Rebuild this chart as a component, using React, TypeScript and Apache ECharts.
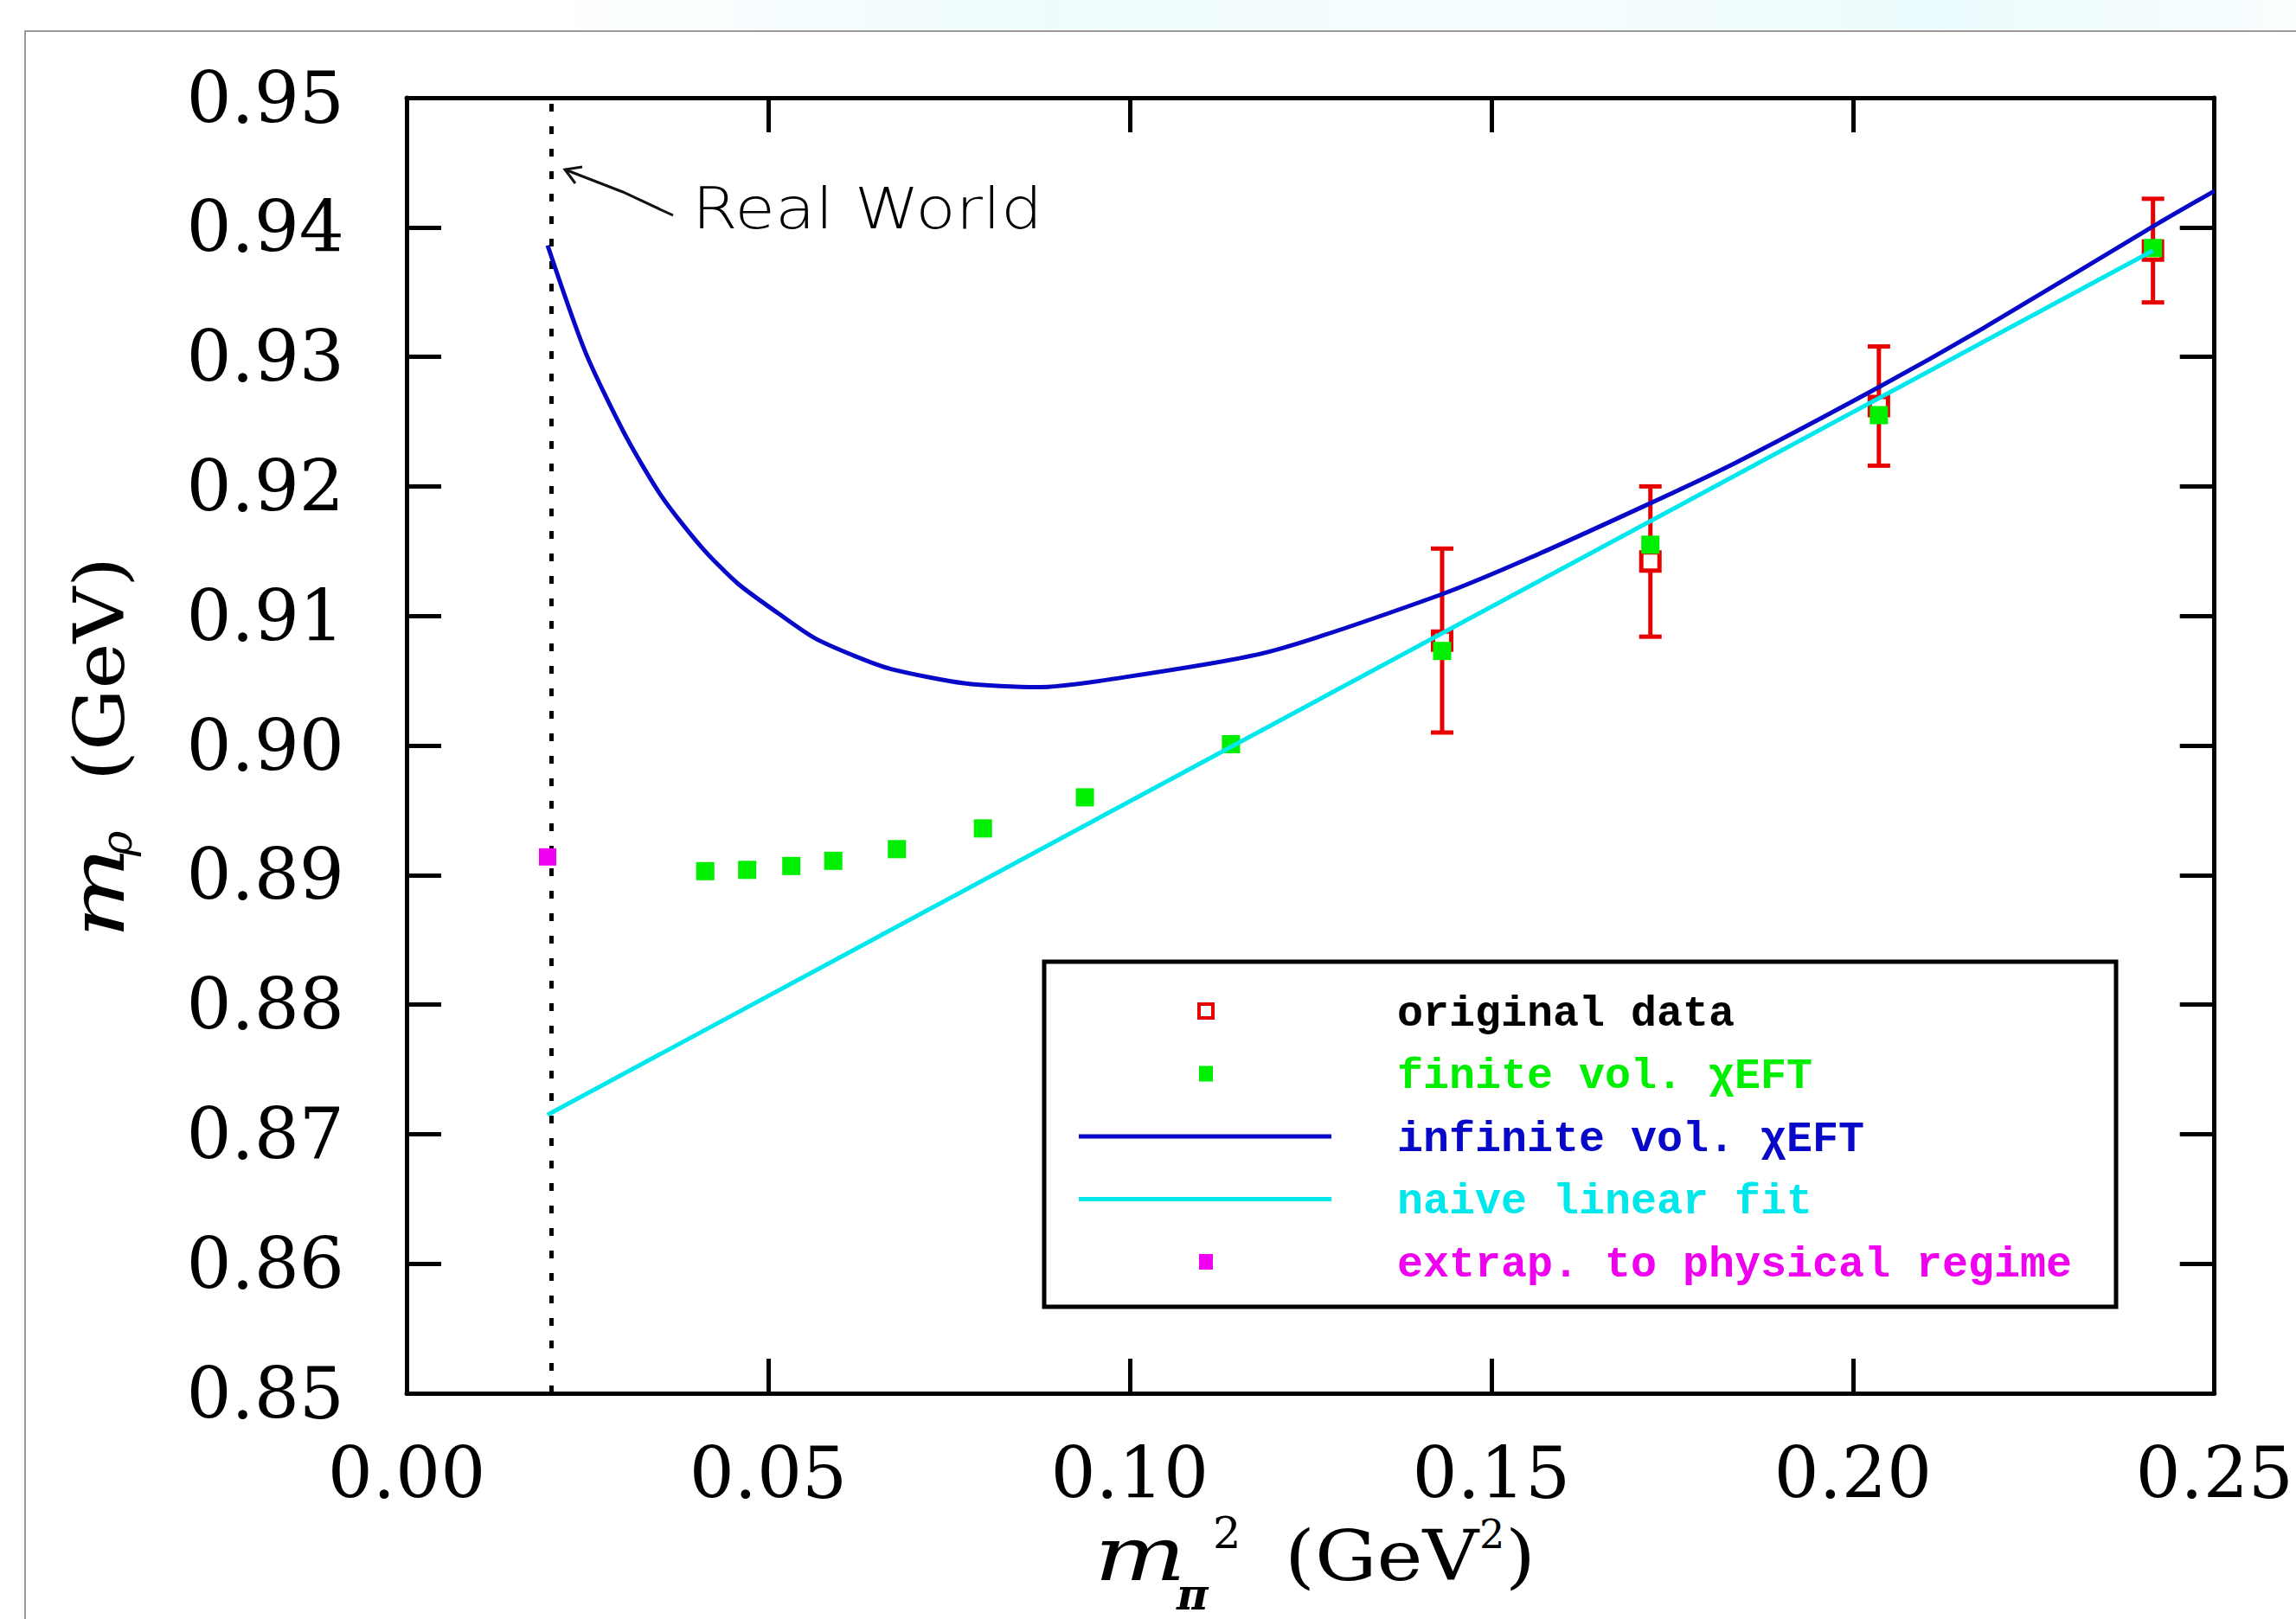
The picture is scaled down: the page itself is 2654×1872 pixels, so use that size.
import React, { useEffect, useRef } from "react";
import * as echarts from "echarts";

// ---- data ----
const physX = 0.0195; // physical pion mass squared (GeV^2)

const infiniteX = [0.0195, 0.0247, 0.0302, 0.0353, 0.0408, 0.0458, 0.0514, 0.0564, 0.062, 0.067, 0.0771, 0.0871, 0.0972, 0.119, 0.1428, 0.1554, 0.1716, 0.1837, 0.2034, 0.218, 0.2413, 0.25];
const infiniteY = [0.9386, 0.9304, 0.924, 0.9192, 0.9153, 0.9125, 0.9102, 0.9083, 0.9069, 0.9059, 0.9048, 0.9045, 0.9051, 0.9072, 0.9116, 0.9145, 0.9186, 0.9218, 0.9276, 0.9322, 0.94, 0.9428];

const linearX = [0.0195, 0.2415];
const linearY = [0.8715, 0.9382];

const originalX = [0.1432, 0.172, 0.2036, 0.2415];
const originalY = [0.9081, 0.9142, 0.9262, 0.9382];
const originalErr = [0.0071, 0.0058, 0.0046, 0.004];

const finiteX = [0.0413, 0.0471, 0.0532, 0.059, 0.0678, 0.0797, 0.0938, 0.114, 0.1432, 0.172, 0.2036, 0.2415];
const finiteY = [0.8903, 0.8904, 0.8907, 0.8911, 0.892, 0.8936, 0.896, 0.9001, 0.9073, 0.9155, 0.9255, 0.9384];

const extrapX = [0.0195];
const extrapY = [0.8914];

const legendLabels = [
  "original data",
  "finite vol. \u03c7EFT",
  "infinite vol. \u03c7EFT",
  "naive linear fit",
  "extrap. to physical regime",
];

const RED = "#e80000";
const GREEN = "#00ee00";
const BLUE = "#0808c8";
const CYAN = "#00e8ec";
const MAGENTA = "#f000f0";
const legendColors = ["#000000", GREEN, BLUE, CYAN, MAGENTA];

const SERIF = "DejaVu Serif";

function txt(text: string, x: number, y: number, font: string, extra: any = {}) {
  return {
    type: "text",
    x,
    y,
    ...extra,
    style: {
      text,
      font,
      fill: "#000",
      textAlign: "left",
      textVerticalAlign: "middle",
      ...(extra.style || {}),
    },
  };
}

export default function App() {
  const ref = useRef<HTMLDivElement>(null);

  useEffect(() => {
    if (!ref.current) return;
    const chart = echarts.init(ref.current, undefined, { renderer: "svg" });

    const axisLine = { show: true, onZero: false, lineStyle: { color: "#000", width: 5 } };
    const axisTick = { show: true, inside: true, length: 40, lineStyle: { color: "#000", width: 5 } };

    // legend drawn as graphic elements
    const legTop = 1112;
    const legLeft = 1207;
    const rowY = legendLabels.map((_, i) => 1169 + i * 72.5);
    const symX = 1394;
    const legendEls: any[] = [
      {
        type: "rect",
        shape: { x: legLeft, y: legTop, width: 1239, height: 399 },
        style: { fill: "#fff", stroke: "#000", lineWidth: 5 },
        z: 20,
      },
      {
        type: "rect",
        shape: { x: symX - 8, y: rowY[0] - 8, width: 16, height: 16 },
        style: { fill: "#fff", stroke: RED, lineWidth: 4 },
        z: 21,
      },
      {
        type: "rect",
        shape: { x: symX - 8, y: rowY[1] - 9, width: 16, height: 18 },
        style: { fill: GREEN },
        z: 21,
      },
      {
        type: "line",
        shape: { x1: 1247, y1: rowY[2], x2: 1539, y2: rowY[2] },
        style: { stroke: BLUE, lineWidth: 5 },
        z: 21,
      },
      {
        type: "line",
        shape: { x1: 1247, y1: rowY[3], x2: 1539, y2: rowY[3] },
        style: { stroke: CYAN, lineWidth: 5 },
        z: 21,
      },
      {
        type: "rect",
        shape: { x: symX - 8, y: rowY[4] - 9, width: 16, height: 18 },
        style: { fill: MAGENTA },
        z: 21,
      },
      ...legendLabels.map((t, i) => ({
        type: "text",
        x: 1615,
        y: rowY[i] + 3,
        z: 21,
        style: {
          text: t,
          fill: legendColors[i],
          font: `bold 50px "Liberation Mono", "DejaVu Sans Mono", monospace`,
          textAlign: "left",
          textVerticalAlign: "middle",
        },
      })),
    ];

    const rot = Math.PI / 2;
    const titleEls: any[] = [
      // y-axis title: m_rho (GeV), rotated, reading upwards
      txt("m", 113, 1085, `italic 86px "${SERIF}"`, { rotation: rot, scaleX: 1.3, style: { lineHeight: 80 } }),
      txt("\u03c1", 135, 990, `italic 50px "${SERIF}"`, { rotation: rot, style: { lineHeight: 46 } }),
      txt("(GeV)", 115, 903, `80px "${SERIF}"`, { rotation: rot, scaleX: 1.12, style: { lineHeight: 80 } }),
      // x-axis title: m_pi^2 (GeV^2)
      txt("m", 1265, 1797, `italic 86px "${SERIF}"`, { scaleX: 1.3, style: { lineHeight: 76 } }),
      txt("\u03c0", 1360, 1843, `italic bold 50px "${SERIF}"`, { style: { lineHeight: 40 } }),
      txt("2", 1402, 1772, `51px "${SERIF}"`, { style: { lineHeight: 40 } }),
      txt("(GeV", 1485, 1799, `80px "${SERIF}"`, { scaleX: 1.12, style: { lineHeight: 76 } }),
      txt("2", 1710, 1774, `46px "${SERIF}"`, { style: { lineHeight: 36 } }),
      txt(")", 1740, 1799, `80px "${SERIF}"`, { scaleX: 1.12, style: { lineHeight: 76 } }),
    ];

    const annotationEls: any[] = [
      txt("Real World", 800, 241, `200 66px "DejaVu Sans", sans-serif`, { scaleX: 1.15, style: { fill: "#000" } }),
      {
        type: "polyline",
        shape: { points: [[778, 249], [720, 222], [653, 196]] },
        style: { stroke: "#111", lineWidth: 3, fill: "none" },
      },
      {
        type: "polyline",
        shape: { points: [[665, 212], [653, 196], [673, 193]] },
        style: { stroke: "#111", lineWidth: 3, fill: "none" },
      },
    ];

    const frameEls: any[] = [
      {
        type: "rect",
        shape: { x: 600, y: 0, width: 2054, height: 34 },
        style: {
          fill: new echarts.graphic.LinearGradient(0, 0, 1, 0, [
            { offset: 0, color: "rgba(200,245,250,0)" },
            { offset: 0.3, color: "rgba(200,245,250,0.3)" },
            { offset: 0.55, color: "rgba(215,248,252,0.2)" },
            { offset: 0.8, color: "rgba(200,245,250,0.35)" },
            { offset: 1, color: "rgba(200,245,250,0.1)" },
          ]),
        },
        z: -10,
      },
      {
        type: "rect",
        shape: { x: 29, y: 36, width: 3000, height: 3000 },
        style: { fill: "none", stroke: "#9a9a9a", lineWidth: 2 },
        z: -10,
      },
    ];

    const option: any = {
      animation: false,
      backgroundColor: "#fff",
      grid: { left: 470, top: 113, width: 2106, height: 1498, containLabel: false },
      xAxis: [
        {
          type: "value",
          position: "bottom",
          min: 0,
          max: 0.25,
          interval: 0.05,
          axisLine,
          axisTick,
          splitLine: { show: false },
          axisLabel: {
            show: true,
            margin: 57,
            color: "#000",
            fontFamily: SERIF,
            fontSize: 82,
            lineHeight: 70,
            showMinLabel: true,
            showMaxLabel: true,
            formatter: (v: number) => v.toFixed(2),
          },
        },
        {
          type: "value",
          position: "top",
          min: 0,
          max: 0.25,
          interval: 0.05,
          axisLine,
          axisTick,
          splitLine: { show: false },
          axisLabel: { show: false },
        },
      ],
      yAxis: [
        {
          type: "value",
          position: "left",
          min: 0.85,
          max: 0.95,
          interval: 0.01,
          axisLine,
          axisTick,
          splitLine: { show: false },
          axisLabel: {
            show: true,
            margin: 72,
            color: "#000",
            fontFamily: SERIF,
            fontSize: 82,
            lineHeight: 70,
            formatter: (v: number) => v.toFixed(2),
          },
        },
        {
          type: "value",
          position: "right",
          min: 0.85,
          max: 0.95,
          interval: 0.01,
          axisLine,
          axisTick,
          splitLine: { show: false },
          axisLabel: { show: false },
        },
      ],
      series: [
        {
          name: "error",
          type: "custom",
          z: 2,
          encode: { x: 0, y: [1, 2] },
          data: originalX.map((x, i) => [x, originalY[i] - originalErr[i], originalY[i] + originalErr[i]]),
          renderItem: (params: any, api: any) => {
            const x = api.value(0);
            const lo = api.coord([x, api.value(1)]);
            const hi = api.coord([x, api.value(2)]);
            const cap = 13;
            const style = { stroke: RED, lineWidth: 5 };
            return {
              type: "group",
              children: [
                { type: "line", shape: { x1: lo[0], y1: lo[1], x2: hi[0], y2: hi[1] }, style },
                { type: "line", shape: { x1: lo[0] - cap, y1: lo[1], x2: lo[0] + cap, y2: lo[1] }, style },
                { type: "line", shape: { x1: hi[0] - cap, y1: hi[1], x2: hi[0] + cap, y2: hi[1] }, style },
              ],
            };
          },
        },
        {
          name: legendLabels[0],
          type: "scatter",
          z: 3,
          symbol: "rect",
          symbolSize: 21,
          itemStyle: { color: "#fff", borderColor: RED, borderWidth: 5, opacity: 1 },
          data: originalX.map((x, i) => [x, originalY[i]]),
        },
        {
          name: legendLabels[1],
          type: "scatter",
          z: 4,
          symbol: "rect",
          symbolSize: 21,
          itemStyle: { color: GREEN, opacity: 1 },
          data: finiteX.map((x, i) => [x, finiteY[i]]),
        },
        {
          name: legendLabels[2],
          type: "line",
          z: 5,
          showSymbol: false,
          smooth: 0.25,
          lineStyle: { color: BLUE, width: 5 },
          data: infiniteX.map((x, i) => [x, infiniteY[i]]),
        },
        {
          name: legendLabels[3],
          type: "line",
          z: 6,
          showSymbol: false,
          lineStyle: { color: CYAN, width: 5 },
          data: linearX.map((x, i) => [x, linearY[i]]),
        },
        {
          name: legendLabels[4],
          type: "scatter",
          z: 7,
          symbol: "rect",
          symbolSize: 20,
          itemStyle: { color: MAGENTA, opacity: 1 },
          data: extrapX.map((x, i) => [x, extrapY[i]]),
          markLine: {
            silent: true,
            symbol: "none",
            label: { show: false },
            z: 1,
            lineStyle: { color: "#000", type: [9, 17], width: 5 },
            data: [{ xAxis: physX }],
          },
        },
      ],
      graphic: [...frameEls, ...annotationEls, ...titleEls, ...legendEls],
    };

    chart.setOption(option);
    return () => chart.dispose();
  }, []);

  return (
    <div
      ref={ref}
      style={{ position: "fixed", left: 0, top: 0, width: 2654, height: 1872, background: "#fff" }}
    />
  );
}
